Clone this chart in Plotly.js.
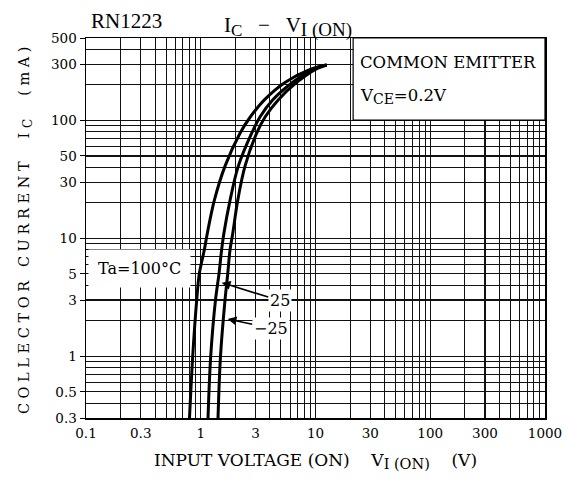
<!DOCTYPE html>
<html>
<head>
<meta charset="utf-8">
<script src="https://cdn.plot.ly/plotly-3.0.1.min.js"></script>
<style>
  html, body { margin: 0; padding: 0; background: #fff; }
  #chart { width: 566px; height: 486px; }
  .ytitle { letter-spacing: 4.6px; }
</style>
</head>
<body>
<div id="chart"></div>
<script>
// ---- data (input voltage in V, collector current in mA) ----
const current = [0.3, 1, 3, 5, 8, 11, 21, 41, 78, 108, 150, 210, 270, 295];
const vin_100 = [0.798, 0.851, 0.922, 0.971, 1.075, 1.14, 1.313, 1.627, 2.198, 2.72, 3.60, 5.42, 8.9, 12.5];
const vin_25  = [1.157, 1.221, 1.344, 1.442, 1.52, 1.59, 1.80, 2.125, 2.78, 3.30, 4.25, 6.30, 9.4, 12.5];
const vin_m25 = [1.414, 1.486, 1.627, 1.718, 1.80, 1.90, 2.10, 2.43, 3.07, 3.66, 4.75, 6.85, 9.9, 12.5];

const xTickVals = [0.1, 0.3, 1, 3, 10, 30, 100, 300, 1000];
const xTickText = ['0.1', '0.3', '1', '3', '10', '30', '100', '300', '1000'];
const yTickVals = [0.3, 0.5, 1, 3, 5, 10, 30, 50, 100, 300, 500];
const yTickText = ['0.3', '0.5', '1', '3', '5', '10', '30', '50', '100', '300', '500'];

// minor grid positions (1..9 in every decade)
function minorGrid(startDecade, endDecade) {
  const v = [];
  for (let d = startDecade; d <= endDecade; d++) {
    for (let m = 1; m <= 9; m++) v.push(+(m * Math.pow(10, d)).toPrecision(3));
  }
  return v;
}

const serif = 'DejaVu Serif, serif';
const times = 'Liberation Serif, serif';
const NB = '\u00a0';
function sub(t, px) { return '<sub><span style="font-size:' + px + 'px">' + t + '</span></sub>'; }

const lineStyle = {color: '#000', width: 3, shape: 'spline', smoothing: 1};
const traces = [
  {x: vin_100, y: current, mode: 'lines', line: lineStyle, name: 'Ta=100°C', hoverinfo: 'x+y'},
  {x: vin_25,  y: current, mode: 'lines', line: lineStyle, name: '25', hoverinfo: 'x+y'},
  {x: vin_m25, y: current, mode: 'lines', line: lineStyle, name: '-25', hoverinfo: 'x+y'}
];

const axisCommon = {
  type: 'log',
  showline: true, mirror: true, linecolor: '#000', linewidth: 1.5,
  showgrid: true, gridcolor: '#111', gridwidth: 1.2,
  zeroline: false,
  tickmode: 'array',
  tickfont: {family: serif, size: 13.5, color: '#000'},
};

const layout = {
  width: 566, height: 486,
  margin: {l: 86, r: 21, t: 38, b: 68},
  paper_bgcolor: '#fff', plot_bgcolor: '#fff',
  showlegend: false,
  xaxis: Object.assign({}, axisCommon, {
    range: [-1, 3],
    tickvals: xTickVals, ticktext: xTickText,
    ticks: '', ticklabelstandoff: 2,
    minor: {tickmode: 'array', tickvals: minorGrid(-1, 2), showgrid: true, gridcolor: '#111', gridwidth: 1, ticks: ''},
    title: {
      text: 'INPUT VOLTAGE (ON)' + NB + NB + NB + NB + 'V' + sub('I (ON)', 14.5) + NB + NB + NB + NB + '(V)',
      font: {family: serif, size: 17, color: '#000'},
      standoff: 14
    }
  }),
  yaxis: Object.assign({}, axisCommon, {
    range: [Math.log10(0.3), Math.log10(500)],
    tickvals: yTickVals, ticktext: yTickText,
    ticks: 'outside', ticklen: 5, tickwidth: 1, tickcolor: '#000',
    minor: {tickmode: 'array', tickvals: minorGrid(-1, 2), showgrid: true, gridcolor: '#111', gridwidth: 1, ticks: ''},
    title: {
      text: 'COLLECTOR CURRENT' + NB + NB + 'I' + sub('C', 12) + NB + NB + '(mA)',
      font: {family: serif, size: 14.5, color: '#000'},
      standoff: 18
    }
  }),
  shapes: [
    {type: 'rect', xref: 'paper', yref: 'paper', x0: 0.582, x1: 1, y0: 0.784, y1: 1,
     fillcolor: '#fff', line: {color: '#000', width: 1.2}, layer: 'above'}
  ],
  annotations: [
    {xref: 'paper', yref: 'paper', x: 0.0882, y: 1.046, xanchor: 'center', yanchor: 'middle',
     text: 'RN1223', showarrow: false, font: {family: times, size: 21, color: '#000'}},
    {xref: 'paper', yref: 'paper', x: 0.2956, y: 1.03, xanchor: 'left', yanchor: 'middle',
     text: 'I' + sub('C', 17) + NB + NB + NB + '−' + NB + NB + NB + 'V' + sub('I (ON)', 19), showarrow: false,
     font: {family: times, size: 21, color: '#000'}},
    {xref: 'paper', yref: 'paper', x: 0.5932, y: 0.935, xanchor: 'left', yanchor: 'middle',
     text: 'COMMON EMITTER', showarrow: false, font: {family: serif, size: 16.5, color: '#000'}},
    {xref: 'paper', yref: 'paper', x: 0.5932, y: 0.846, xanchor: 'left', yanchor: 'middle',
     text: 'V' + sub('CE', 14) + '=0.2V', showarrow: false, font: {family: serif, size: 16.5, color: '#000'}},
    {xref: 'paper', yref: 'paper', x: 0.1176, y: 0.3934, xanchor: 'center', yanchor: 'middle',
     text: 'Ta=100°C', showarrow: false, bgcolor: '#fff', borderpad: 9,
     font: {family: serif, size: 16, color: '#000'}},
    {xref: 'x', yref: 'y', x: 0.1826, y: 0.6247, ax: 58, ay: 18, axref: 'pixel', ayref: 'pixel',
     text: '25', showarrow: true, arrowhead: 2, arrowsize: 1.1, arrowwidth: 1.6, arrowcolor: '#000',
     standoff: 0, bgcolor: '#fff', borderpad: 1, font: {family: serif, size: 16, color: '#000'}},
    {xref: 'x', yref: 'y', x: 0.2349, y: 0.3155, ax: 43, ay: 9, axref: 'pixel', ayref: 'pixel',
     text: '−25', showarrow: true, arrowhead: 2, arrowsize: 1.1, arrowwidth: 1.6, arrowcolor: '#000',
     standoff: 0, bgcolor: '#fff', borderpad: 1, font: {family: serif, size: 16, color: '#000'}}
  ]
};

Plotly.newPlot('chart', traces, layout, {displayModeBar: false, staticPlot: true});
</script>
</body>
</html>
